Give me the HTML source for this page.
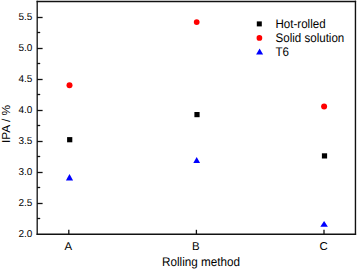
<!DOCTYPE html>
<html><head><meta charset="utf-8"><style>
html,body{margin:0;padding:0;background:#fff;width:357px;height:269px;overflow:hidden}
svg{display:block}
text{font-family:"Liberation Sans",sans-serif;fill:#000;text-rendering:geometricPrecision}
</style></head><body>
<svg width="357" height="269" viewBox="0 0 357 269" xmlns="http://www.w3.org/2000/svg">
<g stroke="#111" stroke-width="1.3" fill="none">
<line x1="36.6" y1="1.45" x2="356.1" y2="1.45" stroke-width="1.6"/>
<line x1="36.6" y1="234.25" x2="356.1" y2="234.25" stroke-width="1.4"/>
<line x1="37.2" y1="0.7" x2="37.2" y2="234.9" stroke-width="1.3"/>
<line x1="355.45" y1="0.7" x2="355.45" y2="234.9" stroke-width="1.4"/>
<line x1="37" y1="218.50" x2="40.20" y2="218.50"/>
<line x1="37" y1="203.50" x2="42.60" y2="203.50"/>
<line x1="37" y1="187.50" x2="40.20" y2="187.50"/>
<line x1="37" y1="172.50" x2="42.60" y2="172.50"/>
<line x1="37" y1="156.50" x2="40.20" y2="156.50"/>
<line x1="37" y1="141.50" x2="42.60" y2="141.50"/>
<line x1="37" y1="125.50" x2="40.20" y2="125.50"/>
<line x1="37" y1="110.50" x2="42.60" y2="110.50"/>
<line x1="37" y1="94.50" x2="40.20" y2="94.50"/>
<line x1="37" y1="79.50" x2="42.60" y2="79.50"/>
<line x1="37" y1="63.50" x2="40.20" y2="63.50"/>
<line x1="37" y1="48.50" x2="42.60" y2="48.50"/>
<line x1="37" y1="32.50" x2="40.20" y2="32.50"/>
<line x1="37" y1="17.50" x2="42.60" y2="17.50"/>
<line x1="68.8" y1="234" x2="68.8" y2="229.8"/>
<line x1="196.4" y1="234" x2="196.4" y2="229.8"/>
<line x1="324.0" y1="234" x2="324.0" y2="229.8"/>
</g>
<g font-size="10px">
<text x="32.4" y="237.00" text-anchor="end">2.0</text>
<text x="32.4" y="206.00" text-anchor="end">2.5</text>
<text x="32.4" y="175.00" text-anchor="end">3.0</text>
<text x="32.4" y="144.00" text-anchor="end">3.5</text>
<text x="32.4" y="113.00" text-anchor="end">4.0</text>
<text x="32.4" y="82.00" text-anchor="end">4.5</text>
<text x="32.4" y="51.00" text-anchor="end">5.0</text>
<text x="32.4" y="20.00" text-anchor="end">5.5</text>
</g>
<g font-size="11.4px">
<text x="68.3" y="250" text-anchor="middle">A</text>
<text x="195.9" y="250" text-anchor="middle">B</text>
<text x="323.5" y="250" text-anchor="middle">C</text>
</g>
<g fill="#000"><rect x="67.10" y="137.10" width="5.2" height="5.2"/><rect x="194.40" y="112.00" width="5.2" height="5.2"/><rect x="321.90" y="153.30" width="5.2" height="5.2"/><rect x="256.80" y="21.40" width="5" height="5"/></g>
<g fill="#f00"><circle cx="69.5" cy="85.2" r="3"/><circle cx="196.7" cy="22.1" r="2.9"/><circle cx="324.1" cy="106.4" r="3"/><circle cx="259.4" cy="37.9" r="2.85"/></g>
<g fill="#00f"><polygon points="69.5,174.0 73.10,180.6 65.90,180.6"/><polygon points="196.7,157.1 200.10,162.9 193.30,162.9"/><polygon points="324.1,220.9 327.90,226.8 320.30,226.8"/><polygon points="259.6,48.6 263.10,54.6 256.10,54.6"/></g>
<g font-size="11.8px">
<text transform="translate(275.5,28) scale(0.98,1.06)">Hot-rolled</text>
<text transform="translate(275.5,42) scale(0.98,1.06)">Solid solution</text>
<text transform="translate(275.5,56) scale(0.98,1.06)">T6</text>
</g>
<text font-size="11.8px" transform="translate(201,266) scale(0.99,1.06)" text-anchor="middle">Rolling method</text>
<text font-size="11.6px" transform="translate(10.2,123.9) rotate(-90) scale(1.03,1)" text-anchor="middle">IPA / %</text>
</svg>
</body></html>
